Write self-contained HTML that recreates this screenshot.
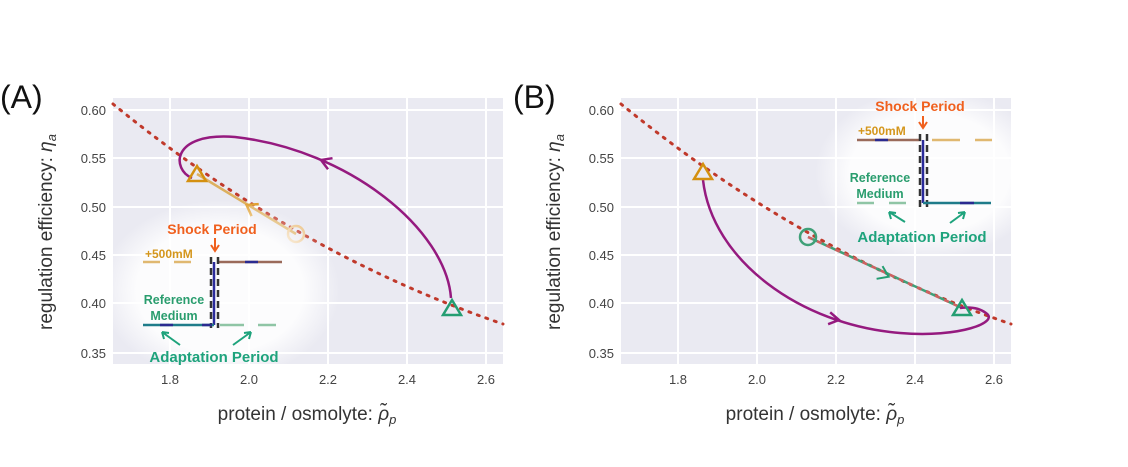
<!DOCTYPE html>
<html><head><meta charset="utf-8"><style>
body{margin:0;background:#fff;}
svg{display:block;font-family:"Liberation Sans",sans-serif;}
.t{font-size:13px;fill:#444;}
.lab{font-size:19px;fill:#333;}
.sp{font-size:14px;font-weight:bold;fill:#f0601e;}
.mm{font-size:12px;font-weight:bold;fill:#d4961c;}
.rm{font-size:12.5px;font-weight:bold;fill:#2a9d6e;}
.ap{font-size:15px;font-weight:bold;fill:#1ea37c;}
</style></head><body>
<svg width="1128" height="467" viewBox="0 0 1128 467">
<defs>
<radialGradient id="glow" cx="50%" cy="50%" r="50%">
<stop offset="70%" stop-color="#fff" stop-opacity="0.85"/><stop offset="100%" stop-color="#fff" stop-opacity="0"/>
</radialGradient>
<g id="axes">
<rect x="113" y="98" width="390" height="266" fill="#eaeaf2"/>
<g stroke="#fff" stroke-width="2">
<line x1="170" y1="98" x2="170" y2="364"/><line x1="249" y1="98" x2="249" y2="364"/><line x1="328" y1="98" x2="328" y2="364"/><line x1="407" y1="98" x2="407" y2="364"/><line x1="486" y1="98" x2="486" y2="364"/>
<line x1="113" y1="110" x2="503" y2="110"/><line x1="113" y1="158" x2="503" y2="158"/><line x1="113" y1="207" x2="503" y2="207"/><line x1="113" y1="255" x2="503" y2="255"/><line x1="113" y1="303" x2="503" y2="303"/><line x1="113" y1="353" x2="503" y2="353"/>
</g>
<g class="t" text-anchor="end">
<text x="106" y="115">0.60</text><text x="106" y="163">0.55</text><text x="106" y="212">0.50</text><text x="106" y="260">0.45</text><text x="106" y="308">0.40</text><text x="106" y="358">0.35</text>
</g>
<g class="t" text-anchor="middle">
<text x="170" y="384">1.8</text><text x="249" y="384">2.0</text><text x="328" y="384">2.2</text><text x="407" y="384">2.4</text><text x="486" y="384">2.6</text>
</g>
<text class="lab" x="307" y="420" text-anchor="middle">protein / osmolyte: <tspan font-style="italic">ρ̃</tspan><tspan font-style="italic" font-size="13" dy="4">p</tspan></text>
<text class="lab" transform="translate(52,232) rotate(-90)" text-anchor="middle">regulation efficiency: <tspan font-style="italic">η</tspan><tspan font-style="italic" font-size="13" dy="4">a</tspan></text>
<path d="M113,104 C200,175 330,265 503,324" fill="none" stroke="#c0392b" stroke-width="3" stroke-dasharray="2 7" stroke-linecap="round"/>
</g>
</defs>

<!-- Panel A -->
<use href="#axes"/>
<text x="0" y="108" font-size="32" fill="#111">(A)</text>
<line x1="296" y1="234" x2="197" y2="174" stroke="#dcaa50" stroke-width="2.5" opacity="0.9"/>
<path d="M244,200 L254,207 L244,214" fill="none" stroke="#e0a030" stroke-width="2.5" transform="rotate(211 250 207)"/>
<path d="M451,298 C446,230 350,150 235,137 C170,132 172,170 192,178" fill="none" stroke="#951a7f" stroke-width="2.5"/>
<path d="M331,154 L321,160 L331,166" fill="none" stroke="#951a7f" stroke-width="2.5" transform="rotate(22 321 160)"/>
<circle cx="296" cy="234" r="8" fill="none" stroke="#edc890" stroke-width="2.5"/>
<path d="M197,166 L206,181 L188,181 Z" fill="none" stroke="#d49010" stroke-width="2.5"/>
<path d="M452,300 L461,315 L443,315 Z" fill="none" stroke="#249e72" stroke-width="2.5"/>
<!-- inset A -->
<rect x="100" y="200" width="240" height="180" rx="60" fill="url(#glow)"/>
<text class="sp" x="212" y="234" text-anchor="middle">Shock Period</text>
<path d="M215,238 V250 M211,245 L215,251 L219,245" stroke="#f0601e" stroke-width="2" fill="none"/>
<text class="mm" x="145" y="258">+500mM</text>
<line x1="143" y1="262" x2="202" y2="262" stroke="#e0b870" stroke-width="2.5" stroke-dasharray="17 14"/>
<line x1="218" y1="262" x2="282" y2="262" stroke="#9a6a5a" stroke-width="2.5"/>
<line x1="245" y1="262" x2="258" y2="262" stroke="#2a2a90" stroke-width="2.5"/>
<line x1="214" y1="262" x2="214" y2="325" stroke="#2a2a9a" stroke-width="2.5"/>
<line x1="211" y1="257" x2="211" y2="328" stroke="#333" stroke-width="2.5" stroke-dasharray="7 4"/>
<line x1="218" y1="257" x2="218" y2="328" stroke="#333" stroke-width="2.5" stroke-dasharray="7 4"/>
<line x1="143" y1="325" x2="214" y2="325" stroke="#1f7c8a" stroke-width="2.5"/>
<line x1="160" y1="325" x2="173" y2="325" stroke="#2a2a90" stroke-width="2.5"/>
<line x1="202" y1="325" x2="212" y2="325" stroke="#2a2a90" stroke-width="2.5"/>
<line x1="220" y1="325" x2="276" y2="325" stroke="#8fc5a5" stroke-width="2.5" stroke-dasharray="24 14"/>
<text class="rm" x="174" y="304" text-anchor="middle">Reference</text>
<text class="rm" x="174" y="320" text-anchor="middle">Medium</text>
<path d="M180,345 L162,332 M162,332 l2,7 M162,332 l7,1" stroke="#1ea37c" stroke-width="2" fill="none"/>
<path d="M233,345 L251,332 M251,332 l-7,1 M251,332 l-2,7" stroke="#1ea37c" stroke-width="2" fill="none"/>
<text class="ap" x="214" y="362" text-anchor="middle">Adaptation Period</text>

<!-- Panel B -->
<use href="#axes" transform="translate(508,0)"/>
<text x="513" y="108" font-size="32" fill="#111">(B)</text>
<line x1="808" y1="237" x2="962" y2="308" stroke="#3fa078" stroke-width="2.5"/>
<line x1="808" y1="237" x2="962" y2="308" stroke="#d06060" stroke-width="2.5" stroke-dasharray="5 5"/>
<path d="M879,268 L889,275 L879,282" fill="none" stroke="#249e72" stroke-width="2" transform="rotate(25 885 275)"/>
<path d="M703,180 C712,260 800,325 900,333 C960,338 1000,322 986,313 C978,307 968,307 960,308" fill="none" stroke="#951a7f" stroke-width="2.5"/>
<path d="M829,314 L839,320 L829,326" fill="none" stroke="#951a7f" stroke-width="2.5" transform="rotate(10 839 320)"/>
<circle cx="808" cy="237" r="8" fill="none" stroke="#3fa078" stroke-width="2.5"/>
<path d="M703,164 L712,179 L694,179 Z" fill="none" stroke="#d49010" stroke-width="2.5"/>
<path d="M962,300 L971,315 L953,315 Z" fill="none" stroke="#249e72" stroke-width="2.5"/>
<!-- inset B -->
<rect x="815" y="88" width="230" height="170" rx="60" fill="url(#glow)"/>
<text class="sp" x="920" y="111" text-anchor="middle">Shock Period</text>
<path d="M923,116 V127 M919,122 L923,128 L927,122" stroke="#f0601e" stroke-width="2" fill="none"/>
<text class="mm" x="858" y="135">+500mM</text>
<line x1="857" y1="140" x2="921" y2="140" stroke="#9a6a5a" stroke-width="2.5"/>
<line x1="875" y1="140" x2="888" y2="140" stroke="#2a2a90" stroke-width="2.5"/>
<line x1="932" y1="140" x2="992" y2="140" stroke="#e0b870" stroke-width="2.5" stroke-dasharray="28 15"/>
<line x1="923" y1="140" x2="923" y2="203" stroke="#2a2a9a" stroke-width="2.5"/>
<line x1="920" y1="134" x2="920" y2="207" stroke="#333" stroke-width="2.5" stroke-dasharray="7 4"/>
<line x1="927" y1="134" x2="927" y2="207" stroke="#333" stroke-width="2.5" stroke-dasharray="7 4"/>
<line x1="923" y1="203" x2="991" y2="203" stroke="#1f7c8a" stroke-width="2.5"/>
<line x1="960" y1="203" x2="974" y2="203" stroke="#2a2a90" stroke-width="2.5"/>
<line x1="857" y1="203" x2="915" y2="203" stroke="#8fc5a5" stroke-width="2.5" stroke-dasharray="17 15"/>
<text class="rm" x="880" y="182" text-anchor="middle">Reference</text>
<text class="rm" x="880" y="198" text-anchor="middle">Medium</text>
<path d="M905,222 L889,212 M889,212 l2,7 M889,212 l7,1" stroke="#1ea37c" stroke-width="2" fill="none"/>
<path d="M950,223 L965,212 M965,212 l-7,1 M965,212 l-2,7" stroke="#1ea37c" stroke-width="2" fill="none"/>
<text class="ap" x="922" y="242" text-anchor="middle">Adaptation Period</text>
</svg>
</body></html>
